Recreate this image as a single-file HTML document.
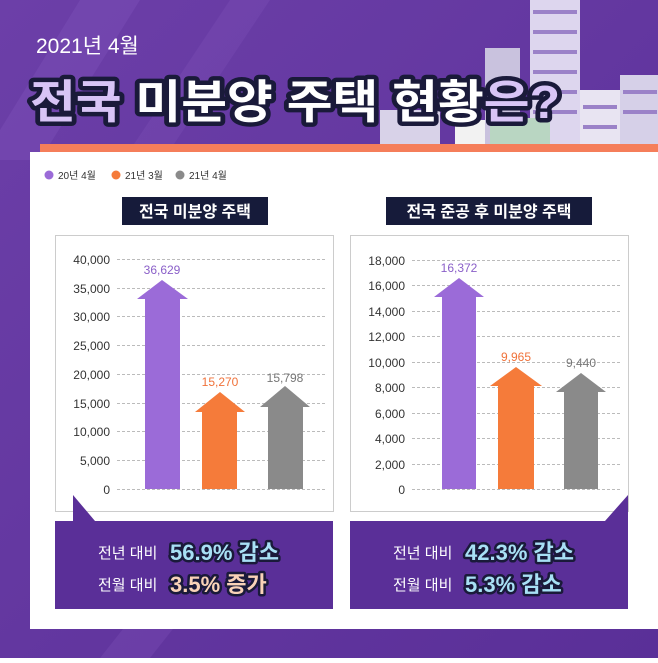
<!DOCTYPE html>
<html><head><meta charset="utf-8"><style>
body{margin:0;width:658px;height:658px;overflow:hidden;font-family:"Liberation Sans","Noto Sans CJK KR",sans-serif;}
</style></head><body>
<svg width="658" height="658" viewBox="0 0 658 658" xmlns="http://www.w3.org/2000/svg" font-family="Liberation Sans, Noto Sans CJK KR, sans-serif">
<defs><linearGradient id="bg" x1="0" y1="0" x2="1" y2="1"><stop offset="0" stop-color="#6c3fa8"/><stop offset="1" stop-color="#5a2f98"/></linearGradient></defs>
<rect width="658" height="658" fill="url(#bg)"/>
<polygon points="80,0 140,0 40,160 0,160 0,130" fill="#7a4db5" opacity="0.5"/>
<polygon points="230,0 270,0 170,150 130,150" fill="#7a4db5" opacity="0.4"/>
<polygon points="100,658 150,658 180,620 130,620" fill="#7a4db5" opacity="0.4"/>
<rect x="530" y="0" width="50" height="145" fill="#ddd6ee"/>
<rect x="485" y="48" width="35" height="97" fill="#c9c2de"/>
<rect x="580" y="90" width="40" height="55" fill="#e8e4f2"/>
<rect x="620" y="75" width="38" height="70" fill="#d6d0e8"/>
<rect x="380" y="110" width="60" height="35" fill="#d8d2e8"/>
<rect x="455" y="120" width="30" height="25" fill="#f2f2f2"/>
<rect x="490" y="118" width="60" height="27" fill="#b9d6c2"/>
<g fill="#9b82c8"><rect x="533" y="10" width="44" height="4"/><rect x="533" y="30" width="44" height="4"/><rect x="533" y="50" width="44" height="4"/><rect x="533" y="70" width="44" height="4"/><rect x="533" y="90" width="44" height="4"/><rect x="533" y="110" width="44" height="4"/><rect x="623" y="90" width="34" height="4"/><rect x="623" y="110" width="34" height="4"/><rect x="583" y="105" width="34" height="4"/><rect x="583" y="125" width="34" height="4"/></g>
<text x="36" y="53" font-size="21" fill="#fff">2021년 4월</text>
<g font-size="46" font-weight="bold" stroke="#1a1a3a" stroke-width="9" stroke-linejoin="round" paint-order="stroke">
<text x="30" y="118" fill="#d8c4f6" textLength="530" lengthAdjust="spacingAndGlyphs">전국 <tspan fill="#fff">미분양 주택 현황</tspan><tspan fill="#d8c4f6">은?</tspan></text>
</g>
<rect x="40" y="144" width="618" height="10" fill="#f57e5a"/>
<rect x="30" y="152" width="628" height="477" fill="#fff"/>
<circle cx="49" cy="175" r="4.5" fill="#9b6bd8"/><text x="58" y="179" font-size="10" fill="#333">20년 4월</text>
<circle cx="116" cy="175" r="4.5" fill="#f57b3a"/><text x="125" y="179" font-size="10" fill="#333">21년 3월</text>
<circle cx="180" cy="175" r="4.5" fill="#8a8a8a"/><text x="189" y="179" font-size="10" fill="#333">21년 4월</text>
<rect x="122" y="197" width="146" height="28" fill="#161b3a"/>
<text x="195" y="217" font-size="16" font-weight="bold" fill="#fff" text-anchor="middle">전국 미분양 주택</text>
<rect x="386" y="197" width="206" height="28" fill="#161b3a"/>
<text x="489" y="217" font-size="16" font-weight="bold" fill="#fff" text-anchor="middle">전국 준공 후 미분양 주택</text>
<rect x="55.5" y="235.5" width="278" height="276" fill="#fff" stroke="#ccc"/>
<rect x="350.5" y="235.5" width="278" height="276" fill="#fff" stroke="#ccc"/>
<g stroke="#bbb" stroke-dasharray="3,2" stroke-width="1">
<line x1="117" y1="259.5" x2="325" y2="259.5"/><line x1="117" y1="288.5" x2="325" y2="288.5"/><line x1="117" y1="316.5" x2="325" y2="316.5"/><line x1="117" y1="345.5" x2="325" y2="345.5"/><line x1="117" y1="374.5" x2="325" y2="374.5"/><line x1="117" y1="403.5" x2="325" y2="403.5"/><line x1="117" y1="431.5" x2="325" y2="431.5"/><line x1="117" y1="460.5" x2="325" y2="460.5"/><line x1="117" y1="489.5" x2="325" y2="489.5"/>
<line x1="412" y1="260.5" x2="620" y2="260.5"/><line x1="412" y1="285.5" x2="620" y2="285.5"/><line x1="412" y1="311.5" x2="620" y2="311.5"/><line x1="412" y1="336.5" x2="620" y2="336.5"/><line x1="412" y1="362.5" x2="620" y2="362.5"/><line x1="412" y1="387.5" x2="620" y2="387.5"/><line x1="412" y1="413.5" x2="620" y2="413.5"/><line x1="412" y1="438.5" x2="620" y2="438.5"/><line x1="412" y1="464.5" x2="620" y2="464.5"/><line x1="412" y1="489.5" x2="620" y2="489.5"/>
</g>
<g font-size="12" fill="#333" text-anchor="end">
<text x="110" y="264">40,000</text><text x="110" y="293">35,000</text><text x="110" y="321">30,000</text><text x="110" y="350">25,000</text><text x="110" y="379">20,000</text><text x="110" y="408">15,000</text><text x="110" y="436">10,000</text><text x="110" y="465">5,000</text><text x="110" y="494">0</text>
<text x="405" y="265">18,000</text><text x="405" y="290">16,000</text><text x="405" y="316">14,000</text><text x="405" y="341">12,000</text><text x="405" y="367">10,000</text><text x="405" y="392">8,000</text><text x="405" y="418">6,000</text><text x="405" y="443">4,000</text><text x="405" y="469">2,000</text><text x="405" y="494">0</text>
</g>
<polygon points="162,280 188,299 180,299 180,489 145,489 145,299 137,299" fill="#9b6bd8"/>
<polygon points="220,392 245,412 237,412 237,489 202,489 202,412 195,412" fill="#f57b3a"/>
<polygon points="285,386 310,407 303,407 303,489 268,489 268,407 260,407" fill="#8a8a8a"/>
<g font-size="12" text-anchor="middle"><text x="162" y="274" fill="#8a5fc8">36,629</text><text x="220" y="386" fill="#f0723a">15,270</text><text x="285" y="382" fill="#777">15,798</text></g>
<polygon points="459,278 484,297 476,297 476,489 442,489 442,297 434,297" fill="#9b6bd8"/>
<polygon points="516,367 542,386 534,386 534,489 498,489 498,386 490,386" fill="#f57b3a"/>
<polygon points="581,373 606,392 598,392 598,489 564,489 564,392 556,392" fill="#8a8a8a"/>
<g font-size="12" text-anchor="middle"><text x="459" y="272" fill="#8a5fc8">16,372</text><text x="516" y="361" fill="#f0723a">9,965</text><text x="581" y="367" fill="#777">9,440</text></g>
<polygon points="55,521 73,521 73,495 95,521 333,521 333,609 55,609" fill="#5a2f98"/>
<polygon points="350,521 605,521 628,495 628,609 350,609" fill="#5a2f98"/>
<g font-size="15" fill="#fff"><text x="98" y="558">전년 대비</text><text x="98" y="590">전월 대비</text><text x="393" y="558">전년 대비</text><text x="393" y="590">전월 대비</text></g>
<g font-size="22" font-weight="bold" stroke="#1a1a3a" stroke-width="5" stroke-linejoin="round" paint-order="stroke">
<text x="170" y="560" fill="#a8e0f5">56.9% 감소</text>
<text x="170" y="592" fill="#f9d2b8">3.5% 증가</text>
<text x="465" y="560" fill="#a8e0f5">42.3% 감소</text>
<text x="465" y="592" fill="#a8e0f5">5.3% 감소</text>
</g>
</svg>
</body></html>
